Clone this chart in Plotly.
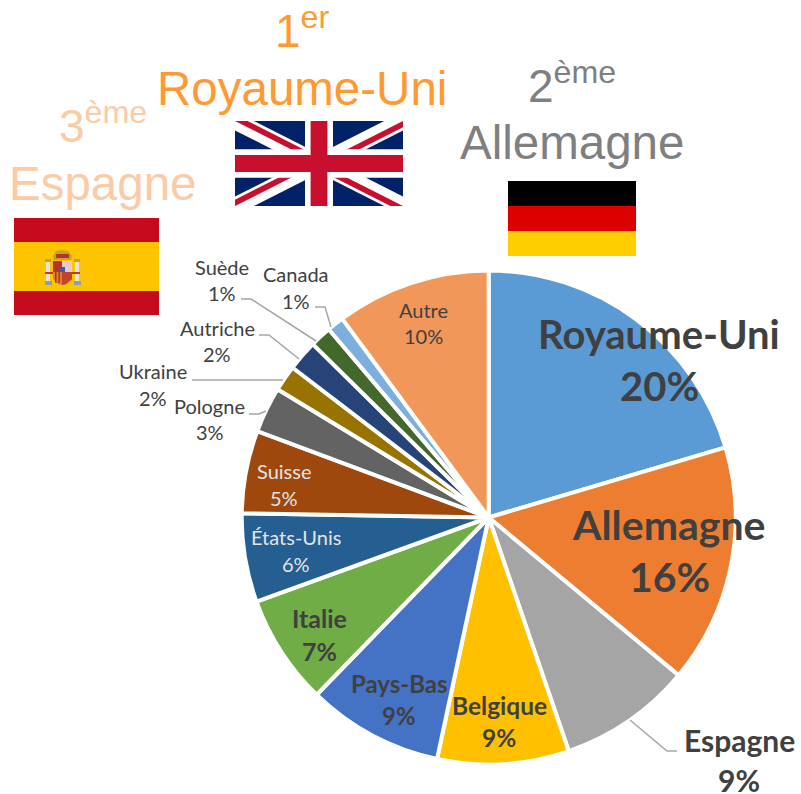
import plotly.graph_objects as go

W, H = 801, 794

categories = ["Royaume-Uni", "Allemagne", "Espagne", "Belgique", "Pays-Bas", "Italie", "États-Unis",
              "Suisse", "Pologne", "Ukraine", "Autriche", "Suède", "Canada", "Autre"]
values = [20.4, 15.6, 8.7, 8.6, 8.9, 7.2, 5.8, 5.4, 3.0, 1.7, 2.0, 1.4, 1.1, 10.1]
percent_labels = ["20%", "16%", "9%", "9%", "9%", "7%", "6%", "5%", "3%", "2%", "2%", "1%", "1%", "10%"]
colors = ["#5B9BD5", "#ED7D31", "#A5A5A5", "#FFC000", "#4472C4", "#70AD47", "#255E91",
          "#9E480E", "#636363", "#997300", "#264478", "#43682B", "#7CAFDD", "#F1975A"]

# label layout: name x, name y, pct x, pct y, size, bold, colour
label_layout = [
    (659, 334, 659, 386, 40, True, "#404040"),
    (669, 524, 669, 576, 41, True, "#404040"),
    (739, 740, 739, 780, 30, True, "#404040"),
    (499, 705, 499, 737, 24.5, True, "#404040"),
    (399, 683, 399, 715, 24, True, "#404040"),
    (319, 618, 319, 651, 25, True, "#404040"),
    (296, 537, 296, 564, 20, False, "#E4E4E4"),
    (284, 471, 284, 498, 20, False, "#E4E4E4"),
    (210, 406, 210, 432, 20, False, "#404040"),
    (153, 371, 153, 398, 20, False, "#404040"),
    (217, 328, 217, 354, 20, False, "#404040"),
    (222, 267, 222, 293, 20, False, "#404040"),
    (296, 274, 296, 301, 20, False, "#404040"),
    (424, 310, 424, 336, 20, False, "#404040"),
]

leader_lines = [
    [(241, 299), (251, 299), (316, 341)],
    [(315, 307), (325, 307), (331, 327)],
    [(259, 335), (269, 335), (299, 359)],
    [(192, 380), (283, 380)],
    [(249, 414), (259, 414), (266, 411)],
    [(677, 751), (667, 751), (630, 720)],
]

podium = [
    ("1<sup>er</sup>", 302, 28, "Royaume-Uni", 302, 88, "#FF9933"),
    ("2<sup>ème</sup>", 572, 83, "Allemagne", 572, 143, "#7F7F7F"),
    ("3<sup>ème</sup>", 103, 123, "Espagne", 103, 183, "#FBCBA5"),
]


def px(x):
    return x / W


def py(y):
    return 1 - y / H


def poly(points, fill):
    d = "M" + " L".join(f"{px(x):.5f},{py(y):.5f}" for x, y in points) + " Z"
    return dict(type="path", xref="paper", yref="paper", path=d, fillcolor=fill,
                line=dict(width=0), layer="above")


def rect(x0, y0, x1, y1, fill):
    return poly([(x0, y0), (x1, y0), (x1, y1), (x0, y1)], fill)


shapes = []

# leader lines
for pts in leader_lines:
    d = "M" + " L".join(f"{px(x):.5f},{py(y):.5f}" for x, y in pts)
    shapes.append(dict(type="path", xref="paper", yref="paper", path=d,
                       line=dict(color="#A6A6A6", width=1.5), fillcolor="rgba(0,0,0,0)"))

# Union Jack
UX, UY, UW, UH = 235, 121, 168, 85


def u(pts):
    return [(UX + a / 60 * UW, UY + b / 30 * UH) for a, b in pts]


NAVY, RED = "#012169", "#C8102E"
shapes.append(rect(UX, UY, UX + UW, UY + UH, NAVY))
shapes.append(poly(u([(0, 0), (6.7, 0), (60, 26.65), (60, 30), (53.3, 30), (0, 3.35)]), "white"))
shapes.append(poly(u([(60, 0), (53.3, 0), (0, 26.65), (0, 30), (6.7, 30), (60, 3.35)]), "white"))
shapes.append(poly(u([(0, 0), (4.47, 0), (34.47, 15), (30, 15)]), RED))
shapes.append(poly(u([(60, 0), (60, 2.24), (30, 17.24), (30, 15)]), RED))
shapes.append(poly(u([(60, 30), (55.53, 30), (25.53, 15), (30, 15)]), RED))
shapes.append(poly(u([(0, 30), (0, 27.76), (30, 12.76), (30, 15)]), RED))
shapes.append(poly(u([(25, 0), (35, 0), (35, 30), (25, 30)]), "white"))
shapes.append(poly(u([(0, 10), (60, 10), (60, 20), (0, 20)]), "white"))
shapes.append(poly(u([(27, 0), (33, 0), (33, 30), (27, 30)]), RED))
shapes.append(poly(u([(0, 12), (60, 12), (60, 18), (0, 18)]), RED))

# German flag
shapes.append(rect(508, 181, 636, 206, "#000000"))
shapes.append(rect(508, 206, 636, 231, "#DD0000"))
shapes.append(rect(508, 231, 636, 256, "#FFCE00"))

# Spanish flag
shapes.append(rect(14, 218, 159, 315, "#C60B1E"))
shapes.append(rect(14, 242, 159, 291, "#FFC400"))
# coat of arms
shapes.append(rect(46, 261, 50, 281, "#E8E4DC"))
shapes.append(rect(75, 261, 79, 281, "#E8E4DC"))
shapes.append(rect(45, 281, 52, 285, "#8FA0A0"))
shapes.append(rect(74, 281, 81, 285, "#8FA0A0"))
shapes.append(rect(45, 259, 51, 262, "#C8A030"))
shapes.append(rect(74, 259, 80, 262, "#C8A030"))
shapes.append(rect(45, 272, 53, 274, "#C0392B"))
shapes.append(rect(72, 272, 80, 274, "#C0392B"))
shapes.append(poly([(53, 256), (56, 251), (62, 250), (68, 251), (72, 256), (71, 260), (54, 260)], "#C9A227"))
shapes.append(rect(56, 254, 69, 258, "#B5332A"))
shapes.append(rect(53, 261, 62, 272, "#B5332A"))
shapes.append(rect(62, 261, 72, 272, "#EBC8CC"))
shapes.append(poly([(53, 272), (72, 272), (72, 279), (67, 284), (62, 285), (58, 284), (53, 279)], "#D9822B"))
for sx in (55, 58.5):
    shapes.append(rect(sx, 272, sx + 1.5, 283, "#B5332A"))
shapes.append(poly([(62, 272), (72, 272), (72, 279), (66, 284), (62, 285)], "#C0452B"))
shapes.append(rect(60, 267, 65, 272, "#3A5FA0"))

annotations = []


def add_text(text, x, y, size, color, family, bold=False):
    annotations.append(dict(text=f"<b>{text}</b>" if bold else text, x=px(x), y=py(y),
                            xref="paper", yref="paper", xanchor="center", yanchor="middle",
                            showarrow=False, font=dict(family=family, size=size, color=color)))


for name, pct, (nx, ny, tx, ty, size, bold, col) in zip(categories, percent_labels, label_layout):
    add_text(name, nx, ny, size, col, "Lato", bold)
    add_text(pct, tx, ty, size, col, "Lato", bold)

for rank, rx, ry, country, cx, cy, col in podium:
    add_text(rank, rx, ry, 46, col, "Liberation Sans")
    add_text(country, cx, cy, 47.5, col, "Liberation Sans")

fig = go.Figure(go.Pie(
    labels=categories, values=values, sort=False, direction="clockwise", rotation=0,
    marker=dict(colors=colors, line=dict(color="white", width=4)),
    textinfo="none", hoverinfo="label+percent", showlegend=False,
    domain=dict(x=[241.7 / W, 735.7 / W], y=[1 - 764.5 / H, 1 - 270.5 / H]),
))
fig.update_layout(width=W, height=H, margin=dict(l=0, r=0, t=0, b=0),
                  paper_bgcolor="white", plot_bgcolor="white",
                  shapes=shapes, annotations=annotations)
fig.write_html("out.html", config=dict(displayModeBar=False),
               post_script="document.body.style.margin='0';document.body.style.overflow='hidden';")
